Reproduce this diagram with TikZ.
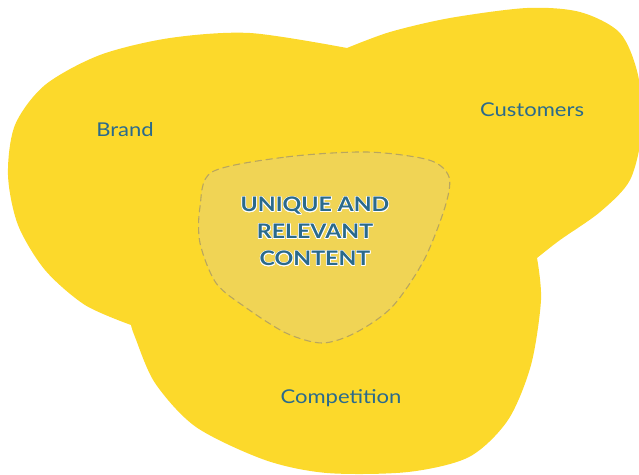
\documentclass[tikz,border=0pt]{standalone}
\usepackage{fontspec}
\setmainfont[FakeStretch=1.16]{Lato}
\usepackage{tikz}
\usetikzlibrary{positioning}
\usepackage{xcolor}
\usepackage[copies]{contour}
\contourlength{0.6pt}
\definecolor{blobyellow}{HTML}{FCD92B}
\definecolor{coreyellow}{HTML}{F0D455}
\definecolor{coredash}{HTML}{B9A65E}
\definecolor{labelblue}{HTML}{2A6A8C}

\begin{document}
\begin{tikzpicture}[x=1pt, y=-1pt,
    label/.style={text=labelblue, font=\fontsize{19}{22}\selectfont},
    core/.style={text=labelblue, align=center,
      font=\fontsize{20}{27}\selectfont\bfseries}]
  \clip (0,0) rectangle (639,474);

  %% Merged blob: customers, competition, brand
  \fill[blobyellow] (347,48)
    -- plot[smooth] coordinates {(347,48) (390,32) (450,18) (527,8) (580,12)
         (620,33) (638,75) (642,130) (630,180) (600,212) (560,240) (537,258)}
    -- plot[smooth] coordinates {(537,258) (541,300) (531,365) (508,420)
         (469,457) (408,472) (327,473) (265,460) (196,427) (155,383)
         (135,337) (131,325)}
    -- plot[smooth] coordinates {(131,325) (85,305) (45,270) (18,225)
         (8,175) (15,125) (45,85) (100,55) (170,38) (250,33) (347,48)}
    -- cycle;

  %% Overlap region (dashed)
  \filldraw[fill=coreyellow, draw=coredash, line width=1.1pt,
      dash pattern=on 7pt off 4pt]
    plot[smooth cycle] coordinates {(212,172) (286,157) (367,152) (429,160)
      (449,177) (445,207) (424,260) (392,307) (355,333) (322,343) (286,333)
      (245,307) (216,283) (200,243) (200,207)};

  %% Labels
  \node[label] (brand) at (125,130) {Brand};
  \node[label] (customers) at (532,110) {Customers};
  \node[label] (competition) at (341,398) {Competition};
  \node[core] (content) at (315,232)
    {\contour{white}{UNIQUE AND}\\ \contour{white}{RELEVANT}\\
     \contour{white}{CONTENT}};
\end{tikzpicture}
\end{document}
